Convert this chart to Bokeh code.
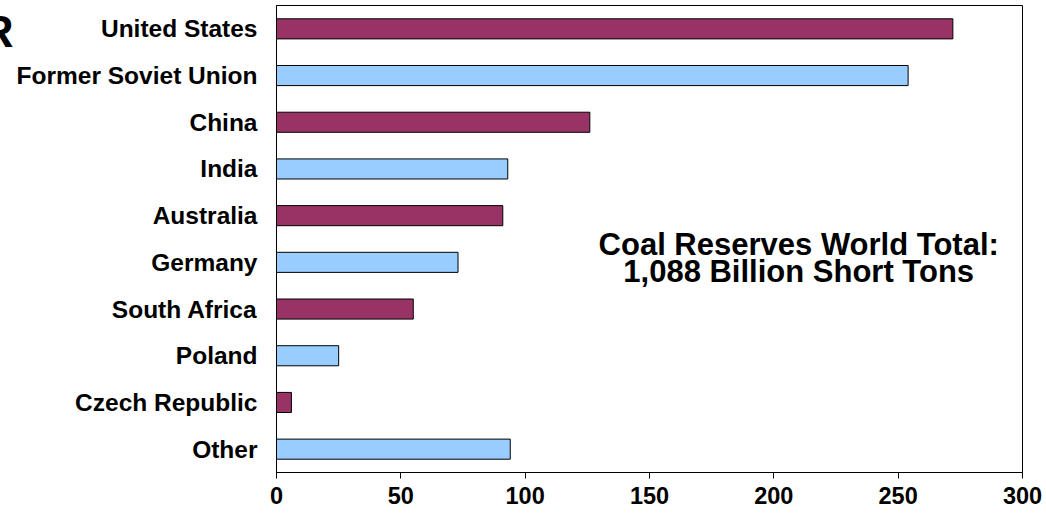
from bokeh.plotting import figure
from bokeh.models import Range1d, FactorRange, ColumnDataSource, Label, FixedTicker
from bokeh.embed import file_html
from bokeh.resources import INLINE

countries = ["United States", "Former Soviet Union", "China", "India", "Australia",
             "Germany", "South Africa", "Poland", "Czech Republic", "Other"]
reserves = [272, 254, 126, 93, 91, 73, 55, 25, 6, 94]
x_ticks = [0, 50, 100, 150, 200, 250, 300]
note_lines = ["Coal Reserves World Total:", "1,088 Billion Short Tons"]
corner_text = "R"

FONT = "Liberation Sans"
palette = ["#993366", "#99CCFF"]
colors = [palette[i % 2] for i in range(len(countries))]

src = ColumnDataSource(dict(country=countries, value=reserves, color=colors))

SHIFT = 22  # the page cuts the leftmost part of the chart, as in the reference
p = figure(width=1046 + SHIFT, height=521, output_backend="svg", toolbar_location=None,
           y_range=FactorRange(factors=list(reversed(countries)), range_padding=0),
           x_range=Range1d(0, 300),
           min_border_left=276 + SHIFT, min_border_right=24, min_border_top=5,
           min_border_bottom=49, margin=(0, 0, 0, -SHIFT))

p.hbar(y="country", right="value", left=0, height=0.43, fill_color="color",
       line_color="black", line_width=1, source=src)

p.xgrid.visible = False
p.ygrid.visible = False
p.outline_line_color = "black"
p.outline_line_width = 1
p.background_fill_color = "white"
p.border_fill_color = "white"

xa = p.xaxis[0]
xa.ticker = FixedTicker(ticks=x_ticks)
xa.minor_tick_line_color = None
xa.major_tick_in = 0
xa.major_tick_out = 6
xa.major_tick_line_color = "black"
xa.axis_line_color = "black"
xa.major_label_standoff = 8
xa.major_label_text_font = FONT
xa.major_label_text_font_style = "bold"
xa.major_label_text_font_size = "23.5px"
xa.major_label_text_color = "black"

ya = p.yaxis[0]
ya.major_tick_in = 0
ya.major_tick_out = 0
ya.minor_tick_line_color = None
ya.axis_line_color = "black"
ya.major_label_standoff = 19
ya.major_label_text_font = FONT
ya.major_label_text_font_style = "bold"
ya.major_label_text_font_size = "24.5px"
ya.major_label_text_color = "black"
# the empty first line moves the corner letter down from the frame's top edge
ya.axis_label = "\n" + corner_text
ya.axis_label_orientation = "horizontal"
ya.axis_label_align = "end"
ya.axis_label_standoff = 0
ya.axis_label_text_font = FONT
ya.axis_label_text_font_style = "bold"
ya.axis_label_text_font_size = "44px"
ya.axis_label_text_line_height = 1.05
ya.axis_label_text_color = "black"

for txt, yv in zip(note_lines, [4.88, 4.30]):
    p.add_layout(Label(x=210, y=yv, text=txt, text_align="center", text_baseline="middle",
                       text_font=FONT, text_font_style="bold", text_font_size="31px",
                       text_color="black"))

open("out.html", "w").write(file_html(p, INLINE))
